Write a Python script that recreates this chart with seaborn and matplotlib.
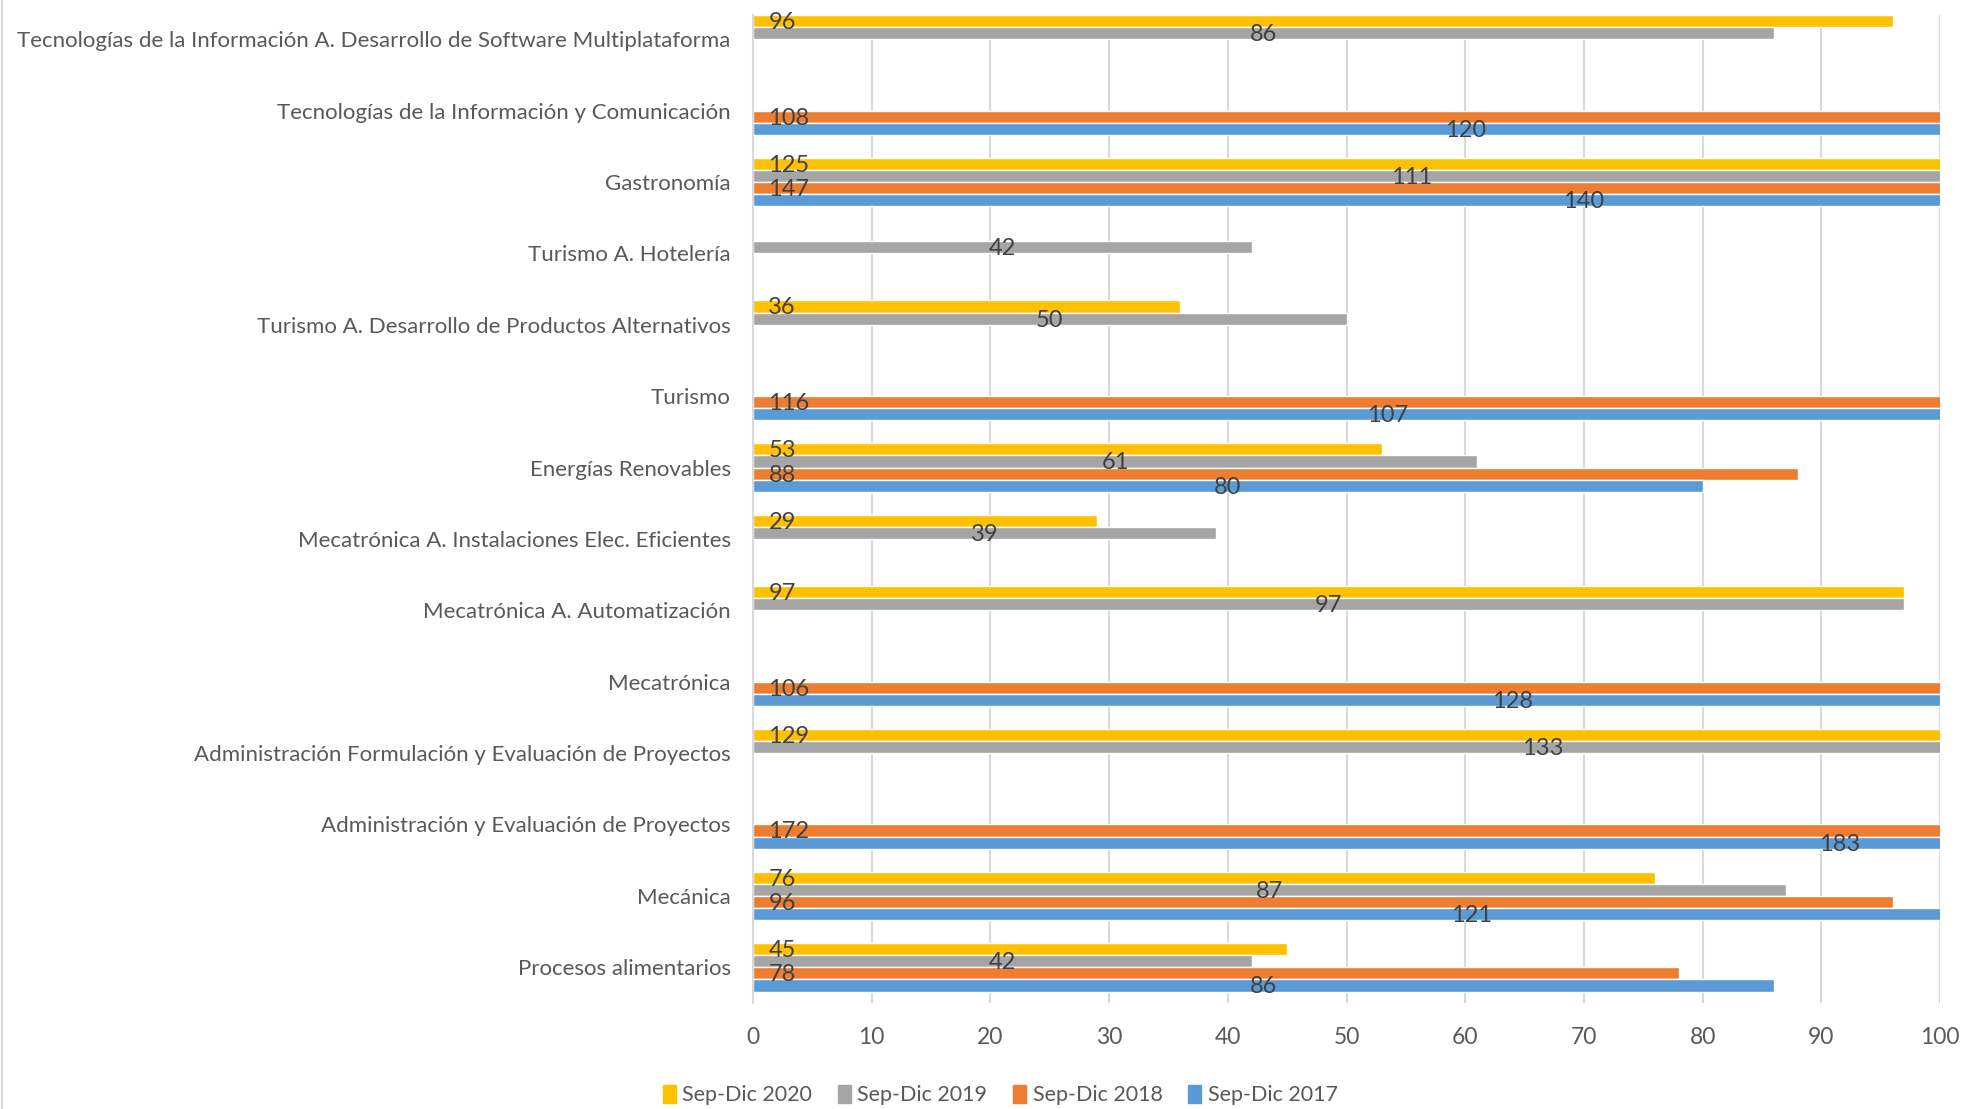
import pandas as pd
import matplotlib.pyplot as plt
import seaborn as sns
from matplotlib.lines import Line2D

# Categories top to bottom
careers = [
    "Tecnologías de la Información A. Desarrollo de Software Multiplataforma",
    "Tecnologías de la Información y Comunicación",
    "Gastronomía",
    "Turismo A. Hotelería",
    "Turismo A. Desarrollo de Productos Alternativos",
    "Turismo",
    "Energías Renovables",
    "Mecatrónica A. Instalaciones Elec. Eficientes",
    "Mecatrónica A. Automatización",
    "Mecatrónica",
    "Administración Formulación y Evaluación de Proyectos",
    "Administración y Evaluación de Proyectos",
    "Mecánica",
    "Procesos alimentarios",
]

periods = ["Sep-Dic 2020", "Sep-Dic 2019", "Sep-Dic 2018", "Sep-Dic 2017"]

sep_dic_2020 = [96, None, 125, None, 36, None, 53, 29, 97, None, 129, None, 76, 45]
sep_dic_2019 = [86, None, 111, 42, 50, None, 61, 39, 97, None, 133, None, 87, 42]
sep_dic_2018 = [None, 108, 147, None, None, 116, 88, None, None, 106, None, 172, 96, 78]
sep_dic_2017 = [None, 120, 140, None, None, 107, 80, None, None, 128, None, 183, 121, 86]

x_ticks = [0, 10, 20, 30, 40, 50, 60, 70, 80, 90, 100]

colors = ["#FFC000", "#A5A5A5", "#ED7D31", "#5B9BD5"]

# Build long-form table
wide = pd.DataFrame({
    "Carrera": careers,
    periods[0]: sep_dic_2020,
    periods[1]: sep_dic_2019,
    periods[2]: sep_dic_2018,
    periods[3]: sep_dic_2017,
})
data = wide.melt(id_vars="Carrera", var_name="Periodo", value_name="Valor").dropna()

sns.set_style("white")
plt.rcParams["font.family"] = ["Lato", "DejaVu Sans"]

fig = plt.figure(figsize=(19.69, 11.09), dpi=100)
ax = fig.add_axes([0.3824, 0.0956, 0.6029, 0.891])

sns.barplot(data=data, x="Valor", y="Carrera", hue="Periodo",
            order=careers, hue_order=periods, palette=colors,
            orient="h", width=0.68, dodge=True, saturation=1,
            errorbar=None, ax=ax, legend=True)

ax.set_xlim(0, 100)
ax.set_ylim(13.5, -0.34)
ax.set_xticks(x_ticks)
ax.grid(axis="x", color="#D9D9D9", linewidth=1.5)
ax.set_axisbelow(True)
for side in ["top", "right", "bottom"]:
    ax.spines[side].set_visible(False)
ax.spines["left"].set_color("#D9D9D9")
ax.spines["left"].set_linewidth(1.5)
ax.set_xlabel("")
ax.set_ylabel("")
ax.tick_params(axis="x", length=0, pad=17, labelsize=16.5, labelcolor="#595959")
ax.tick_params(axis="y", length=0, pad=16, labelsize=16, labelcolor="#595959")

# Data labels: 2020 and 2018 at the base, 2019 and 2017 at the bar centre
for i, container in enumerate(ax.containers):
    for patch in container:
        w = patch.get_width()
        if pd.isna(w) or w == 0:
            continue
        yc = patch.get_y() + patch.get_height() / 2 + 0.02
        if i in (0, 2):
            ax.text(1.3, yc, f"{int(w)}", ha="left", va="center",
                    fontsize=17, color="#404040")
        else:
            ax.text(w / 2, yc, f"{int(w)}", ha="center", va="center",
                    fontsize=17, color="#404040")

ax.legend_.remove()
handles = [plt.Rectangle((0, 0), 1, 1, color=c) for c in colors]
fig.legend(handles, periods, loc="center", bbox_to_anchor=(0.508, 0.0126),
           ncol=4, frameon=False, fontsize=15.5, labelcolor="#595959",
           handlelength=0.6, handleheight=0.9, handletextpad=0.3,
           columnspacing=1.2)

# thin border line at the left edge of the image
fig.add_artist(Line2D([0.001, 0.001], [0, 1], color="#D9D9D9", linewidth=1.5))

fig.savefig("out.png", dpi=100)
